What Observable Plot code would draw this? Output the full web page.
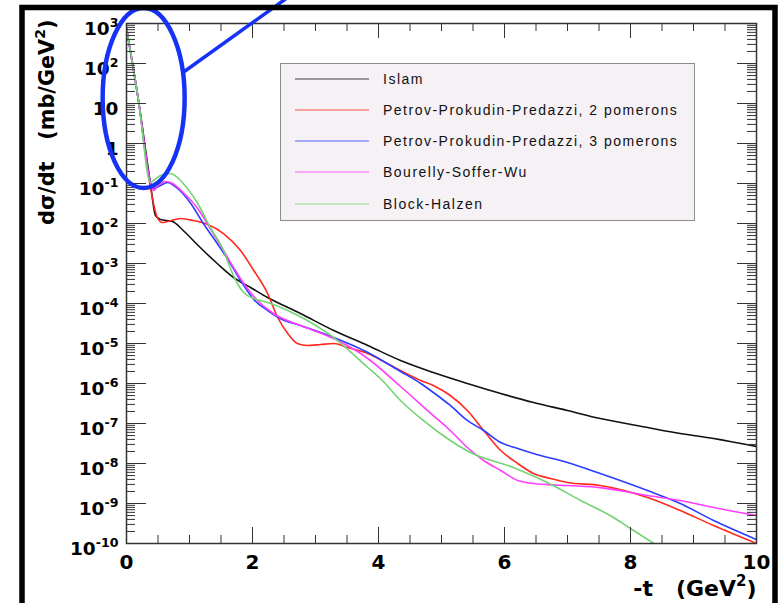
<!DOCTYPE html>
<html><head><meta charset="utf-8">
<script src="https://cdn.jsdelivr.net/npm/d3@7"></script>
<script src="https://cdn.jsdelivr.net/npm/@observablehq/plot@0.6"></script>
<style>
body{margin:0;background:#fff;}
svg{display:block;}
</style>
</head><body><div id="chart"></div>
<script>
// ---- data ----
const seriesNames = ["Islam", "Petrov-Prokudin-Predazzi, 2 pomerons", "Petrov-Prokudin-Predazzi, 3 pomerons", "Bourelly-Soffer-Wu", "Block-Halzen"];
const seriesColors = ["#111111", "#ff2a1f", "#2b3dff", "#ff3dff", "#72d472"];

const islamT = [0, 0.19, 0.38, 0.46, 0.54, 0.73, 0.90, 1.17, 1.44, 1.70, 1.97, 2.24, 2.76, 3.29, 3.83, 4.35, 4.87, 5.41, 5.94, 6.46, 7.0, 7.52, 8.27, 8.79, 9.32, 10.0];
const islamY = [7.5e2, 1.19e1, 1.0e-1, 1.58e-2, 1.26e-2, 1.12e-2, 6.68e-3, 2.51e-3, 1.0e-3, 4.47e-4, 2.51e-4, 1.41e-4, 5.62e-5, 2.11e-5, 8.91e-6, 3.76e-6, 1.88e-6, 1.0e-6, 5.62e-7, 3.35e-7, 2.11e-7, 1.33e-7, 7.94e-8, 5.62e-8, 4.22e-8, 2.66e-8];

const ppp2T = [0, 0.19, 0.38, 0.49, 0.57, 0.65, 0.86, 1.06, 1.29, 1.54, 1.81, 2.02, 2.24, 2.40, 2.56, 2.71, 2.87, 3.08, 3.29, 3.51, 3.83, 4.14, 4.67, 4.87, 5.14, 5.41, 5.67, 5.94, 6.21, 6.46, 6.73, 7.0, 7.52, 8.27, 8.79, 9.32, 10.0];
const ppp2Y = [7.5e2, 1.19e1, 7.94e-2, 1.41e-2, 1.06e-2, 1.12e-2, 1.33e-2, 1.19e-2, 9.44e-3, 5.62e-3, 2.11e-3, 6.68e-4, 1.78e-4, 4.47e-5, 1.78e-5, 1.0e-5, 8.91e-6, 9.44e-6, 1.0e-5, 7.94e-6, 5.62e-6, 3.16e-6, 1.19e-6, 8.91e-7, 5.01e-7, 2.11e-7, 6.68e-8, 2.11e-8, 1.0e-8, 5.62e-9, 4.22e-9, 3.35e-9, 2.82e-9, 1.41e-9, 6.68e-10, 2.82e-10, 1.0e-10];

const ppp3T = [0, 0.19, 0.38, 0.43, 0.54, 0.65, 0.81, 1.02, 1.22, 1.44, 1.65, 1.81, 2.02, 2.24, 2.44, 2.76, 3.29, 3.83, 4.35, 4.67, 4.87, 5.14, 5.41, 5.67, 5.94, 6.21, 6.46, 7.0, 7.52, 8.27, 8.79, 9.32, 10.0];
const ppp3Y = [7.5e2, 1.19e1, 1.06e-1, 7.5e-2, 8.91e-2, 1.06e-1, 7.5e-2, 3.16e-2, 1.0e-2, 3.16e-3, 1.0e-3, 3.76e-4, 1.26e-4, 6.68e-5, 4.22e-5, 2.82e-5, 1.41e-5, 5.96e-6, 2.0e-6, 1.0e-6, 5.96e-7, 2.82e-7, 1.19e-7, 6.68e-8, 3.35e-8, 2.37e-8, 1.78e-8, 1.06e-8, 5.62e-9, 2.11e-9, 1.0e-9, 3.76e-10, 1.26e-10];

const bswT = [0, 0.19, 0.38, 0.43, 0.49, 0.62, 0.73, 0.90, 1.13, 1.33, 1.54, 1.70, 1.86, 2.08, 2.33, 2.76, 3.29, 3.83, 4.35, 4.87, 5.14, 5.41, 5.67, 5.94, 6.21, 6.46, 7.0, 7.52, 8.27, 8.79, 9.32, 10.0];
const bswY = [7.5e2, 1.19e1, 1.06e-1, 6.68e-2, 8.41e-2, 1.12e-1, 1.0e-1, 5.96e-2, 2.37e-2, 7.5e-3, 2.11e-3, 7.94e-4, 3.16e-4, 1.19e-4, 5.62e-5, 2.82e-5, 1.33e-5, 4.22e-6, 8.41e-7, 1.58e-7, 6.68e-8, 2.51e-8, 1.19e-8, 6.68e-9, 3.76e-9, 3.16e-9, 2.82e-9, 2.5e-9, 1.58e-9, 1.19e-9, 7.94e-10, 5.01e-10];

const bhT = [0, 0.19, 0.38, 0.43, 0.54, 0.70, 0.90, 1.13, 1.33, 1.54, 1.65, 1.76, 1.86, 2.02, 2.24, 2.56, 2.87, 3.29, 3.83, 4.03, 4.35, 4.71, 4.98, 5.46, 6.14, 6.68, 7.21, 7.73, 8.0, 8.37];
const bhY = [7.5e2, 1.19e1, 1.06e-1, 1.19e-1, 1.58e-1, 1.78e-1, 1.0e-1, 3.16e-2, 7.94e-3, 2.11e-3, 7.5e-4, 3.16e-4, 1.88e-4, 1.33e-4, 1.06e-4, 6.68e-5, 3.76e-5, 1.41e-5, 2.51e-6, 1.33e-6, 3.76e-7, 1.19e-7, 5.62e-8, 1.88e-8, 7.94e-9, 3.35e-9, 1.19e-9, 4.47e-10, 2.37e-10, 1.0e-10];

// axis ticks & labels
const yMajor = [1e3, 1e2, 1e1, 1, 1e-1, 1e-2, 1e-3, 1e-4, 1e-5, 1e-6, 1e-7, 1e-8, 1e-9, 1e-10];
const yTickLabels = ["10^{3}", "10^{2}", "10", "1", "10^{-1}", "10^{-2}", "10^{-3}", "10^{-4}", "10^{-5}", "10^{-6}", "10^{-7}", "10^{-8}", "10^{-9}", "10^{-10}"];
const xMajor = [0, 2, 4, 6, 8, 10];
const xTickLabels = ["0", "2", "4", "6", "8", "10"];
const xMinor = [0.5, 1, 1.5, 2.5, 3, 3.5, 4.5, 5, 5.5, 6.5, 7, 7.5, 8.5, 9, 9.5];
const xTitle = "-t\u00a0\u00a0\u00a0(GeV^{2})";
const yTitle = "d\u03c3/dt\u00a0\u00a0\u00a0(mb/GeV^{2})";

// annotation (blue ellipse around the forward peak)
const ellipseT = 0.28, ellipseY = 13.3;

// ---- build tables ----
const tables = [[islamT, islamY], [ppp2T, ppp2Y], [ppp3T, ppp3Y], [bswT, bswY], [bhT, bhY]]
  .map(([T, Y], k) => T.map((t, i) => ({t, v: Y[i], s: seriesNames[k]})));
const yMinor = [];
for (let e = -10; e < 3; e++) for (let m = 2; m <= 9; m++) yMinor.push(m * Math.pow(10, e));

const font = "DejaVu Sans";

function overlay(index, scales, values, dims) {
  const g = d3.create("svg:g");
  // legend box
  const L = {x: 280, y: 63, w: 414, h: 157};
  g.append("rect").attr("x", L.x + 0.5).attr("y", L.y + 0.5).attr("width", L.w).attr("height", L.h)
    .attr("fill", "#f5f1f5").attr("stroke", "#8c8c8c").attr("stroke-width", 1);
  const rowY = [79, 110, 141, 172, 204];
  seriesNames.forEach((name, i) => {
    g.append("line").attr("x1", 295).attr("x2", 369).attr("y1", rowY[i]).attr("y2", rowY[i])
      .attr("stroke", seriesColors[i]).attr("stroke-width", 1.2).attr("stroke-opacity", 0.8);
    g.append("text").attr("x", 383).attr("y", rowY[i]).attr("dy", "0.36em")
      .attr("text-anchor", "start")
      .attr("font-family", "Liberation Sans").attr("font-size", 14).attr("letter-spacing", "1.5px")
      .attr("fill", "#111").text(name);
  });
  // blue ellipse annotation
  const cx = scales.x(ellipseT), cy = scales.y(ellipseY);
  g.append("ellipse").attr("cx", cx).attr("cy", cy).attr("rx", 41).attr("ry", 90)
    .attr("fill", "none").attr("stroke", "#1633f5").attr("stroke-width", 4.5);
  g.append("line").attr("x1", cx + 40).attr("y1", cy - 26).attr("x2", cx + 146).attr("y2", cy - 102)
    .attr("stroke", "#1633f5").attr("stroke-width", 3.5);
  // outer thick frame
  g.append("rect").attr("x", 22).attr("y", 7.5).attr("width", 753).attr("height", 700)
    .attr("fill", "none").attr("stroke", "#000").attr("stroke-width", 5.5);
  return g.node();
}

const axisColor = "#333";
const chart = Plot.plot({
  width: 780, height: 603,
  marginLeft: 126, marginRight: 24, marginTop: 23, marginBottom: 60,
  x: {domain: [0, 10], axis: null},
  y: {type: "log", domain: [1e-10, 1e3], axis: null},
  style: {background: "white", fontFamily: font},
  marks: [
    // curves
    ...tables.map((rows, k) => Plot.line(rows, {x: "t", y: "v", stroke: seriesColors[k], strokeWidth: 1.6, curve: "monotone-x", clip: true})),
    // ticks: left & right y
    Plot.ruleY(yMajor, {y: d => d, x1: 0, x2: 0, insetRight: -20, stroke: axisColor}),
    Plot.ruleY(yMinor, {y: d => d, x1: 0, x2: 0, insetRight: -9, stroke: axisColor}),
    Plot.ruleY(yMajor, {y: d => d, x1: 10, x2: 10, insetLeft: -19, stroke: axisColor}),
    Plot.ruleY(yMinor, {y: d => d, x1: 10, x2: 10, insetLeft: -9, stroke: axisColor}),
    // ticks: bottom & top x
    Plot.ruleX(xMajor, {x: d => d, y1: 1e-10, y2: 1e-10, insetBottom: 16, stroke: axisColor}),
    Plot.ruleX(xMinor, {x: d => d, y1: 1e-10, y2: 1e-10, insetBottom: 8, stroke: axisColor}),
    Plot.ruleX(xMajor, {x: d => d, y1: 1e3, y2: 1e3, insetBottom: -15, stroke: axisColor}),
    Plot.ruleX(xMinor, {x: d => d, y1: 1e3, y2: 1e3, insetBottom: -8, stroke: axisColor}),
    Plot.frame({stroke: axisColor, strokeWidth: 1.5}),
    // tick labels
    Plot.text(yMajor, {x: 0, y: d => d, text: (d, i) => yTickLabels[i], textAnchor: "end", dx: -8, dy: 6, fontSize: 18.5, fontWeight: "bold", fill: "#000"}),
    Plot.text(xMajor, {x: d => d, y: 1e-10, text: (d, i) => xTickLabels[i], dy: 19, fontSize: 20, fontWeight: "bold", fill: "#000"}),
    // axis titles
    Plot.text([xTitle], {frameAnchor: "bottom-right", text: d => d, textAnchor: "end", dy: 52, fontSize: 22, fontWeight: "bold", fill: "#000"}),
    Plot.text([yTitle], {frameAnchor: "top-left", text: d => d, rotate: -90, textAnchor: "end", dx: -87, dy: -4, fontSize: 20.8, fontWeight: "bold", fill: "#000"}),
    overlay
  ]
});
document.getElementById("chart").appendChild(chart);

// superscript markup  ^{...}  ->  raised tspans
chart.querySelectorAll("text").forEach(t => {
  const s = t.textContent;
  if (!s.includes("^{")) return;
  const fs = parseFloat(getComputedStyle(t).fontSize) || 18;
  const parts = s.split(/(\^\{[^}]*\})/).filter(p => p.length);
  while (t.firstChild) t.removeChild(t.firstChild);
  let raised = false;
  const shift = 0.45 * fs;
  for (const p of parts) {
    const ts = document.createElementNS("http://www.w3.org/2000/svg", "tspan");
    if (p.startsWith("^{")) {
      ts.textContent = p.slice(2, -1);
      ts.setAttribute("font-size", (0.68 * fs).toFixed(1));
      ts.setAttribute("dy", (-shift).toFixed(1));
      raised = true;
    } else {
      ts.textContent = p;
      if (raised) ts.setAttribute("dy", shift.toFixed(1));
      raised = false;
    }
    t.appendChild(ts);
  }
});
</script>
</body></html>
